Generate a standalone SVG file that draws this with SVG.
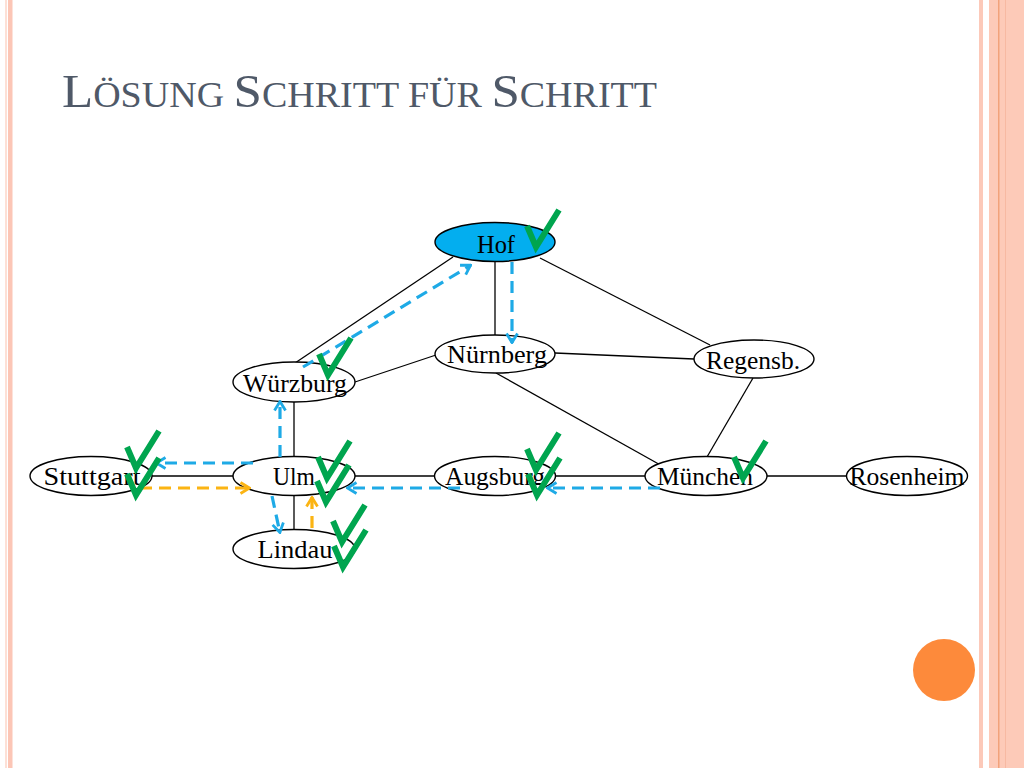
<svg xmlns="http://www.w3.org/2000/svg" xmlns:xlink="http://www.w3.org/1999/xlink" width="1024" height="768" viewBox="0 0 1024 768">
<style>
  .edge{stroke:#000;stroke-width:1.3;fill:none}
  .node ellipse{fill:#fff;stroke:#000;stroke-width:1.4}
  .node text{font-family:"Liberation Serif","DejaVu Serif",serif;font-size:25px;fill:#000;text-anchor:middle}
  .blue{stroke:#1eaae6;stroke-width:3.2;stroke-dasharray:12 7;fill:none;marker-end:url(#ab)}
  .orange{stroke:#fbb413;stroke-width:3.2;stroke-dasharray:12 7;fill:none;marker-end:url(#ao)}
  .chk{stroke:#00a54f;stroke-width:6;fill:none;stroke-linejoin:miter;stroke-linecap:butt}
  .title{font-family:"Liberation Serif","DejaVu Serif",serif;fill:#4f5968}
</style>
<defs>
  <marker id="ab" viewBox="0 0 12 14" refX="11" refY="7" markerWidth="12" markerHeight="14" markerUnits="userSpaceOnUse" orient="auto">
    <path d="M1.5,1.5 L10.5,7 L1.5,12.5" fill="none" stroke="#1eaae6" stroke-width="2.8"/>
  </marker>
  <marker id="ao" viewBox="0 0 12 14" refX="11" refY="7" markerWidth="12" markerHeight="14" markerUnits="userSpaceOnUse" orient="auto">
    <path d="M1.5,1.5 L10.5,7 L1.5,12.5" fill="none" stroke="#fbb413" stroke-width="2.8"/>
  </marker>
  <path id="chk" class="chk" d="M0,0 L9,21 L32,-16"/>
</defs>
<rect x="0" y="0" width="1024" height="768" fill="#fff"/>
<!-- borders -->
<rect x="5" y="0" width="2" height="768" fill="#fde0d6"/>
<rect x="8" y="0" width="4.5" height="768" fill="#fcc6b6"/>
<rect x="979" y="0" width="4" height="768" fill="#fcc9b9"/>
<rect x="989" y="0" width="35" height="768" fill="#fdcab8"/>
<rect x="998" y="0" width="1.5" height="768" fill="#f2a27a"/>
<rect x="1005" y="0" width="1" height="768" fill="#f7b9a2"/>
<circle cx="944" cy="670" r="31" fill="#fd8a3b"/>
<!-- title -->
<text class="title" x="62" y="107" textLength="595" lengthAdjust="spacingAndGlyphs"><tspan font-size="47">L</tspan><tspan font-size="35">ÖSUNG </tspan><tspan font-size="47">S</tspan><tspan font-size="35">CHRITT FÜR </tspan><tspan font-size="47">S</tspan><tspan font-size="35">CHRITT</tspan></text>
<!-- connectors -->
<g id="edges">
  <line class="edge" x1="453" y1="257" x2="295" y2="363"/>
  <line class="edge" x1="495" y1="262" x2="495" y2="335"/>
  <line class="edge" x1="540" y1="258" x2="710" y2="345"/>
  <line class="edge" x1="355" y1="382" x2="436" y2="355"/>
  <line class="edge" x1="555" y1="353" x2="694" y2="359"/>
  <line class="edge" x1="496" y1="373" x2="664" y2="467"/>
  <line class="edge" x1="753" y1="378" x2="707" y2="457"/>
  <line class="edge" x1="294" y1="402" x2="294" y2="457"/>
  <line class="edge" x1="152" y1="476" x2="233" y2="476"/>
  <line class="edge" x1="355" y1="476" x2="435" y2="476"/>
  <line class="edge" x1="556" y1="476" x2="645" y2="476"/>
  <line class="edge" x1="767" y1="476" x2="847" y2="476"/>
  <line class="edge" x1="294" y1="495" x2="294" y2="530"/>
</g>
<!-- nodes -->
<g id="node-hof" class="node"><ellipse cx="495" cy="242" rx="60" ry="19.5" style="fill:#03aeef"/><text x="496" y="253" textLength="38" lengthAdjust="spacingAndGlyphs">Hof</text></g>
<g id="node-nuernberg" class="node"><ellipse cx="495" cy="354" rx="60" ry="19"/><text x="497" y="363" textLength="100" lengthAdjust="spacingAndGlyphs">Nürnberg</text></g>
<g id="node-wuerzburg" class="node"><ellipse cx="294" cy="382" rx="61" ry="20"/><text x="295" y="392" textLength="104" lengthAdjust="spacingAndGlyphs">Würzburg</text></g>
<g id="node-regensburg" class="node"><ellipse cx="754" cy="359" rx="60" ry="19"/><text x="753" y="369" textLength="94" lengthAdjust="spacingAndGlyphs">Regensb.</text></g>
<g id="node-stuttgart" class="node"><ellipse cx="91" cy="476" rx="61" ry="19.5"/><text x="92" y="485" textLength="97" lengthAdjust="spacingAndGlyphs">Stuttgart</text></g>
<g id="node-ulm" class="node"><ellipse cx="294" cy="476" rx="61" ry="19.5"/><text x="294" y="485" textLength="42" lengthAdjust="spacingAndGlyphs">Ulm</text></g>
<g id="node-augsburg" class="node"><ellipse cx="495" cy="476" rx="60.5" ry="19.5"/><text x="495" y="485" textLength="100" lengthAdjust="spacingAndGlyphs">Augsburg</text></g>
<g id="node-muenchen" class="node"><ellipse cx="706" cy="476" rx="61" ry="19.5"/><text x="705" y="485" textLength="96" lengthAdjust="spacingAndGlyphs">München</text></g>
<g id="node-rosenheim" class="node"><ellipse cx="907" cy="476" rx="60.5" ry="19.5"/><text x="907" y="485" textLength="115" lengthAdjust="spacingAndGlyphs">Rosenheim</text></g>
<g id="node-lindau" class="node"><ellipse cx="294" cy="549" rx="61" ry="19.5"/><text x="295" y="558" textLength="75" lengthAdjust="spacingAndGlyphs">Lindau</text></g>
<!-- search steps -->
<g id="steps">
  <line class="blue" x1="303" y1="367" x2="471" y2="265"/>
  <line class="blue" x1="512" y1="262" x2="512" y2="343"/>
  <line class="blue" x1="280" y1="457" x2="280" y2="401"/>
  <line class="blue" x1="253" y1="463" x2="156" y2="463"/>
  <line class="orange" x1="140" y1="488" x2="250" y2="488"/>
  <line class="blue" x1="272" y1="496" x2="280" y2="533"/>
  <line class="orange" x1="312" y1="528" x2="312" y2="497"/>
  <line class="blue" x1="460" y1="488" x2="347" y2="488"/>
  <line class="blue" x1="660" y1="488" x2="547" y2="488"/>
</g>
<g id="checks">
  <use xlink:href="#chk" x="527" y="226"/>
  <use xlink:href="#chk" x="319" y="354"/>
  <use xlink:href="#chk" x="127" y="447"/>
  <use xlink:href="#chk" x="127" y="474"/>
  <use xlink:href="#chk" x="318" y="457"/>
  <use xlink:href="#chk" x="317" y="481"/>
  <use xlink:href="#chk" x="333" y="521"/>
  <use xlink:href="#chk" x="334" y="546"/>
  <use xlink:href="#chk" x="527" y="449"/>
  <use xlink:href="#chk" x="528" y="474"/>
  <use xlink:href="#chk" x="734" y="457"/>
</g>
</svg>
